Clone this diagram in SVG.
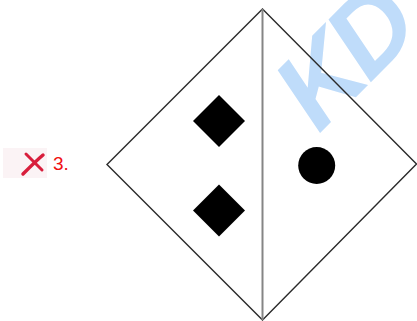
<svg xmlns="http://www.w3.org/2000/svg" width="417" height="321" viewBox="0 0 417 321">
<style>
.wm{font-family:"Liberation Sans",Arial,sans-serif;font-weight:bold;font-style:italic;font-size:108px;letter-spacing:-6px;fill:#bfdcfa}
.num{font-family:"Liberation Sans",Arial,sans-serif;font-size:19px;fill:#f01010}
.outline{fill:none;stroke:#2a2a2a;stroke-width:1.4;stroke-linejoin:miter}
.divider{stroke:#858585;stroke-width:2}
.shape{fill:#000}
.xmark{stroke:#d81e3c;stroke-linecap:round;fill:none}
</style>
<rect width="417" height="321" fill="#fff"/>
<g id="watermark">
<text class="wm" transform="translate(318.7,134.3) rotate(-45)">KD</text>
</g>
<g id="label">
<rect x="3" y="148" width="44" height="30" fill="#fbf3f5"/>
<path class="xmark" d="M23,174 C30,167 37,160 43,155" stroke-width="3.5"/>
<path class="xmark" d="M26,154 C31,159 37,165 42,170" stroke-width="3"/>
<text class="num" x="53" y="170">3.</text>
</g>
<g id="frame">
<polygon class="outline" points="262.5,9 416.5,164 262.5,320 107,164.5"/>
</g>
<g id="connectors">
<line class="divider" x1="262.5" y1="9" x2="262.5" y2="320"/>
</g>
<g id="diamond-top">
<polygon class="shape" points="219,95 245,121 219,147 193,121"/>
</g>
<g id="diamond-bottom">
<polygon class="shape" points="219,184.5 245,210.5 219,236.5 193,210.5"/>
</g>
<g id="circle">
<circle class="shape" cx="316.7" cy="165.5" r="18.5"/>
</g>
</svg>
